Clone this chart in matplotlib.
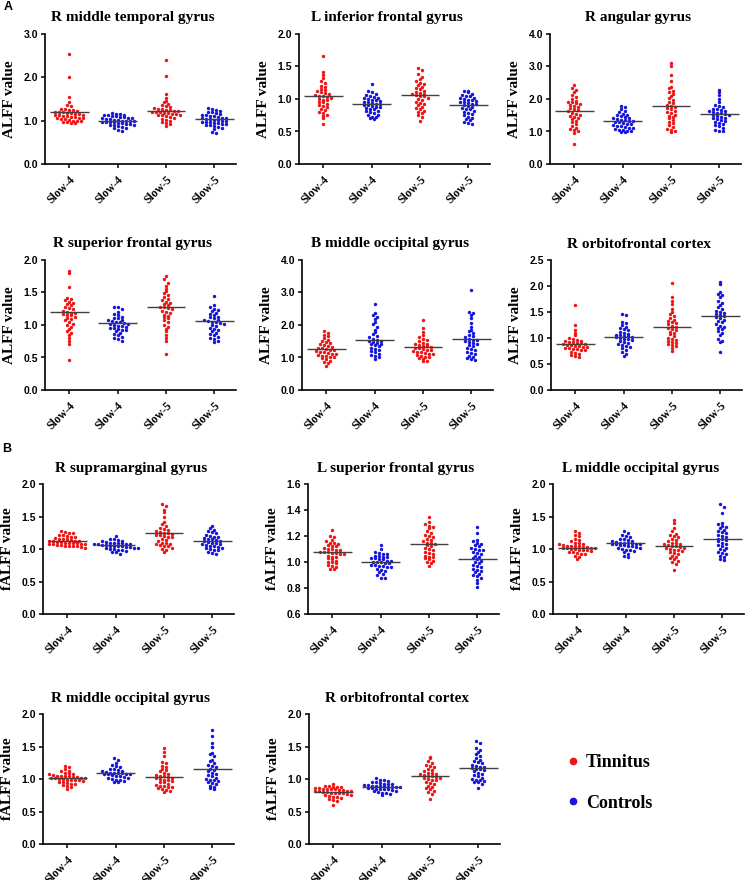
import numpy as np
import matplotlib.pyplot as plt
from matplotlib.lines import Line2D

# ---- data (one list per group) ----
groups = ["Slow-4", "Slow-4", "Slow-5", "Slow-5"]

# A: ALFF
a_mtg_t4 = [2.53, 2.01, 1.54, 1.42, 1.35, 1.33, 1.28, 1.27, 1.25, 1.24, 1.22, 1.21, 1.2, 1.19, 1.18, 1.17, 1.16, 1.15, 1.14,
            1.13, 1.12, 1.11, 1.1, 1.09, 1.08, 1.07, 1.06, 1.05, 1.04, 1.03, 1.02, 1.0, 1.0, 0.99, 0.98, 0.97, 0.95, 0.94]
a_mtg_c4 = [1.17, 1.16, 1.15, 1.14, 1.13, 1.12, 1.11, 1.1, 1.09, 1.08, 1.07, 1.06, 1.05, 1.04, 1.03, 1.02, 1.01, 1.0, 1.0,
            0.99, 0.99, 0.98, 0.97, 0.97, 0.96, 0.95, 0.94, 0.93, 0.92, 0.91, 0.9, 0.89, 0.88, 0.86, 0.84, 0.82, 0.79, 0.77]
a_mtg_t5 = [2.41, 2.02, 1.62, 1.53, 1.46, 1.42, 1.38, 1.35, 1.33, 1.31, 1.29, 1.27, 1.26, 1.25, 1.24, 1.23, 1.22, 1.21, 1.2,
            1.19, 1.18, 1.17, 1.16, 1.15, 1.14, 1.13, 1.12, 1.1, 1.08, 1.06, 1.04, 1.02, 1.0, 0.98, 0.95, 0.92, 0.88]
a_mtg_c5 = [1.29, 1.28, 1.25, 1.23, 1.21, 1.19, 1.17, 1.15, 1.13, 1.12, 1.11, 1.1, 1.08, 1.07, 1.06, 1.05, 1.04, 1.03, 1.02,
            1.01, 1.0, 0.99, 0.98, 0.97, 0.96, 0.95, 0.94, 0.93, 0.92, 0.9, 0.89, 0.87, 0.85, 0.83, 0.8, 0.74, 0.71]
a_mtg_mean = [1.19, 1.0, 1.23, 1.03]

a_ifg_t4 = [1.66, 1.41, 1.37, 1.32, 1.28, 1.24, 1.2, 1.18, 1.16, 1.14, 1.12, 1.1, 1.09, 1.08, 1.06, 1.05, 1.04, 1.03,
            1.02, 1.0, 0.99, 0.98, 0.96, 0.95, 0.93, 0.91, 0.89, 0.87, 0.85, 0.83, 0.8, 0.78, 0.76, 0.74, 0.7, 0.62]
a_ifg_c4 = [1.23, 1.12, 1.1, 1.08, 1.06, 1.05, 1.03, 1.02, 1.01, 1.0, 0.99, 0.98, 0.97, 0.96, 0.95, 0.94, 0.93, 0.92,
            0.91, 0.9, 0.89, 0.88, 0.87, 0.86, 0.85, 0.84, 0.82, 0.81, 0.8, 0.78, 0.76, 0.75, 0.73, 0.72, 0.7, 0.69]
a_ifg_t5 = [1.48, 1.45, 1.38, 1.34, 1.31, 1.28, 1.25, 1.23, 1.21, 1.19, 1.17, 1.15, 1.13, 1.11, 1.09, 1.08, 1.07, 1.06,
            1.05, 1.04, 1.02, 1.0, 0.98, 0.96, 0.94, 0.92, 0.9, 0.88, 0.86, 0.84, 0.82, 0.8, 0.78, 0.75, 0.72, 0.66]
a_ifg_c5 = [1.13, 1.12, 1.1, 1.08, 1.06, 1.05, 1.04, 1.02, 1.01, 1.0, 0.99, 0.98, 0.97, 0.96, 0.95, 0.94, 0.93, 0.92,
            0.9, 0.89, 0.88, 0.86, 0.85, 0.84, 0.82, 0.8, 0.79, 0.77, 0.75, 0.73, 0.71, 0.69, 0.67, 0.65, 0.63, 0.62]
a_ifg_mean = [1.04, 0.92, 1.06, 0.9]

a_ang_t4 = [2.42, 2.35, 2.28, 2.2, 2.12, 2.05, 2.0, 1.95, 1.92, 1.9, 1.88, 1.85, 1.82, 1.78, 1.75, 1.72, 1.68, 1.65,
            1.62, 1.58, 1.55, 1.52, 1.48, 1.45, 1.42, 1.38, 1.33, 1.28, 1.22, 1.16, 1.12, 1.08, 1.04, 1.0, 0.96, 0.62]
a_ang_c4 = [1.78, 1.75, 1.68, 1.64, 1.6, 1.55, 1.52, 1.5, 1.47, 1.45, 1.43, 1.4, 1.38, 1.36, 1.34, 1.32, 1.31, 1.3,
            1.28, 1.26, 1.24, 1.22, 1.2, 1.18, 1.16, 1.14, 1.12, 1.1, 1.08, 1.06, 1.04, 1.02, 1.0, 0.98, 0.97]
a_ang_t5 = [3.1, 3.01, 2.75, 2.55, 2.38, 2.33, 2.26, 2.2, 2.15, 2.1, 2.02, 1.97, 1.92, 1.87, 1.82, 1.78, 1.75, 1.72,
            1.68, 1.64, 1.6, 1.56, 1.52, 1.48, 1.44, 1.4, 1.35, 1.3, 1.25, 1.2, 1.14, 1.08, 1.04, 1.0, 0.97]
a_ang_c5 = [2.28, 2.22, 2.12, 2.0, 1.9, 1.82, 1.78, 1.74, 1.7, 1.68, 1.66, 1.64, 1.62, 1.6, 1.58, 1.56, 1.54, 1.52,
            1.5, 1.48, 1.45, 1.42, 1.4, 1.37, 1.34, 1.32, 1.3, 1.27, 1.24, 1.2, 1.16, 1.12, 1.06, 1.02, 1.0]
a_ang_mean = [1.62, 1.31, 1.77, 1.53]

a_sfg_t4 = [1.83, 1.8, 1.58, 1.42, 1.4, 1.38, 1.36, 1.34, 1.32, 1.3, 1.28, 1.26, 1.24, 1.22, 1.2, 1.19, 1.18, 1.17,
            1.16, 1.15, 1.13, 1.11, 1.09, 1.07, 1.05, 1.02, 1.0, 0.97, 0.94, 0.91, 0.88, 0.84, 0.8, 0.75, 0.7, 0.46]
a_sfg_c4 = [1.28, 1.27, 1.24, 1.2, 1.17, 1.15, 1.13, 1.11, 1.1, 1.08, 1.07, 1.06, 1.05, 1.04, 1.03, 1.02, 1.01, 1.0,
            0.99, 0.98, 0.97, 0.96, 0.95, 0.94, 0.93, 0.92, 0.9, 0.88, 0.86, 0.84, 0.82, 0.8, 0.78, 0.76]
a_sfg_t5 = [1.75, 1.7, 1.65, 1.6, 1.56, 1.52, 1.49, 1.46, 1.43, 1.4, 1.38, 1.36, 1.34, 1.32, 1.3, 1.28, 1.27, 1.26,
            1.24, 1.22, 1.2, 1.18, 1.16, 1.14, 1.12, 1.1, 1.07, 1.04, 1.0, 0.97, 0.94, 0.9, 0.85, 0.8, 0.75, 0.56]
a_sfg_c5 = [1.45, 1.3, 1.28, 1.25, 1.23, 1.21, 1.19, 1.17, 1.15, 1.13, 1.12, 1.1, 1.08, 1.07, 1.06, 1.05, 1.04, 1.03,
            1.02, 1.0, 0.98, 0.96, 0.94, 0.92, 0.9, 0.88, 0.86, 0.84, 0.82, 0.8, 0.78, 0.76, 0.74]
a_sfg_mean = [1.2, 1.03, 1.27, 1.06]

a_mog_t4 = [1.82, 1.75, 1.7, 1.65, 1.6, 1.55, 1.5, 1.47, 1.44, 1.41, 1.38, 1.35, 1.32, 1.3, 1.28, 1.26, 1.24, 1.22,
            1.2, 1.18, 1.16, 1.14, 1.12, 1.1, 1.08, 1.06, 1.04, 1.02, 1.0, 0.97, 0.94, 0.9, 0.86, 0.82, 0.75]
a_mog_c4 = [2.65, 2.38, 2.3, 2.25, 2.18, 2.1, 2.02, 1.95, 1.85, 1.78, 1.72, 1.66, 1.62, 1.58, 1.55, 1.52, 1.5, 1.48,
            1.45, 1.42, 1.4, 1.37, 1.34, 1.3, 1.27, 1.24, 1.2, 1.16, 1.12, 1.08, 1.04, 1.0, 0.96]
a_mog_t5 = [2.15, 1.9, 1.78, 1.68, 1.62, 1.58, 1.54, 1.5, 1.46, 1.43, 1.4, 1.38, 1.36, 1.34, 1.32, 1.3, 1.28, 1.26,
            1.24, 1.22, 1.2, 1.18, 1.16, 1.14, 1.12, 1.1, 1.08, 1.05, 1.02, 1.0, 0.97, 0.94, 0.9, 0.88]
a_mog_c5 = [3.08, 2.4, 2.36, 2.32, 2.2, 2.05, 1.95, 1.86, 1.8, 1.75, 1.7, 1.66, 1.62, 1.58, 1.55, 1.53, 1.5, 1.48,
            1.45, 1.42, 1.38, 1.34, 1.3, 1.26, 1.22, 1.18, 1.14, 1.1, 1.06, 1.02, 0.98, 0.95, 0.92]
a_mog_mean = [1.25, 1.53, 1.31, 1.56]

a_ofc_t4 = [1.63, 1.25, 1.15, 1.1, 1.05, 1.0, 0.98, 0.96, 0.95, 0.94, 0.93, 0.92, 0.91, 0.9, 0.89, 0.88, 0.87, 0.86,
            0.85, 0.84, 0.83, 0.82, 0.81, 0.8, 0.79, 0.78, 0.77, 0.76, 0.74, 0.72, 0.7, 0.68, 0.66, 0.64]
a_ofc_c4 = [1.46, 1.45, 1.3, 1.28, 1.25, 1.22, 1.2, 1.18, 1.15, 1.12, 1.1, 1.08, 1.06, 1.05, 1.04, 1.03, 1.02, 1.01,
            1.0, 0.99, 0.98, 0.96, 0.94, 0.92, 0.9, 0.88, 0.86, 0.84, 0.82, 0.8, 0.77, 0.74, 0.7, 0.65]
a_ofc_t5 = [2.05, 1.78, 1.72, 1.65, 1.55, 1.5, 1.46, 1.42, 1.38, 1.35, 1.32, 1.3, 1.28, 1.26, 1.24, 1.22, 1.2, 1.18,
            1.15, 1.12, 1.1, 1.07, 1.04, 1.0, 0.98, 0.96, 0.94, 0.92, 0.9, 0.88, 0.86, 0.84, 0.8, 0.75]
a_ofc_c5 = [2.08, 2.04, 1.88, 1.85, 1.82, 1.78, 1.72, 1.68, 1.64, 1.6, 1.56, 1.52, 1.5, 1.48, 1.46, 1.44, 1.42, 1.4,
            1.38, 1.35, 1.32, 1.3, 1.27, 1.24, 1.22, 1.2, 1.17, 1.14, 1.1, 1.05, 0.98, 0.95, 0.92, 0.73]
a_ofc_mean = [0.88, 1.02, 1.21, 1.43]

# B: fALFF
f_smg_t4 = [1.27, 1.26, 1.25, 1.24, 1.22, 1.21, 1.2, 1.19, 1.18, 1.17, 1.16, 1.15, 1.15, 1.14, 1.13, 1.13, 1.12, 1.12,
            1.11, 1.11, 1.1, 1.1, 1.09, 1.09, 1.08, 1.08, 1.07, 1.07, 1.06, 1.06, 1.05, 1.05, 1.04, 1.04, 1.03, 1.02]
f_smg_c4 = [1.2, 1.16, 1.15, 1.14, 1.13, 1.12, 1.11, 1.1, 1.1, 1.09, 1.09, 1.08, 1.08, 1.07, 1.07, 1.06, 1.06, 1.05,
            1.05, 1.04, 1.04, 1.03, 1.03, 1.02, 1.02, 1.01, 1.0, 1.0, 0.99, 0.98, 0.97, 0.96, 0.95, 0.92]
f_smg_t5 = [1.7, 1.66, 1.6, 1.57, 1.5, 1.42, 1.38, 1.35, 1.33, 1.31, 1.29, 1.27, 1.26, 1.25, 1.24, 1.23, 1.22, 1.21,
            1.2, 1.19, 1.18, 1.16, 1.14, 1.12, 1.1, 1.09, 1.08, 1.07, 1.06, 1.05, 1.04, 1.02, 1.0, 0.98, 0.96]
f_smg_c5 = [1.36, 1.32, 1.3, 1.28, 1.26, 1.24, 1.22, 1.2, 1.19, 1.18, 1.17, 1.16, 1.15, 1.14, 1.13, 1.12, 1.11, 1.1,
            1.09, 1.08, 1.07, 1.06, 1.05, 1.04, 1.03, 1.02, 1.01, 1.0, 0.99, 0.98, 0.96, 0.94, 0.93]
f_smg_mean = [1.12, 1.06, 1.24, 1.12]

f_sfg_t4 = [1.25, 1.2, 1.19, 1.17, 1.16, 1.15, 1.15, 1.14, 1.13, 1.12, 1.12, 1.11, 1.1, 1.1, 1.09, 1.09, 1.08, 1.08,
            1.08, 1.07, 1.07, 1.06, 1.06, 1.05, 1.04, 1.04, 1.03, 1.02, 1.01, 1.0, 1.0, 0.99, 0.98, 0.97, 0.96, 0.95, 0.95]
f_sfg_c4 = [1.13, 1.1, 1.08, 1.07, 1.06, 1.06, 1.05, 1.05, 1.04, 1.04, 1.03, 1.03, 1.02, 1.02, 1.01, 1.01, 1.0, 1.0,
            1.0, 0.99, 0.99, 0.98, 0.98, 0.97, 0.97, 0.96, 0.96, 0.95, 0.94, 0.93, 0.92, 0.91, 0.9, 0.88, 0.88]
f_sfg_t5 = [1.35, 1.31, 1.29, 1.28, 1.27, 1.26, 1.24, 1.22, 1.21, 1.2, 1.19, 1.18, 1.17, 1.16, 1.15, 1.15, 1.14, 1.13,
            1.12, 1.11, 1.1, 1.09, 1.08, 1.07, 1.06, 1.05, 1.04, 1.04, 1.03, 1.02, 1.01, 1.0, 0.99, 0.97]
f_sfg_c5 = [1.27, 1.22, 1.17, 1.16, 1.15, 1.14, 1.13, 1.12, 1.11, 1.1, 1.09, 1.09, 1.08, 1.07, 1.06, 1.05, 1.04, 1.03,
            1.02, 1.01, 1.0, 0.99, 0.98, 0.97, 0.96, 0.95, 0.94, 0.93, 0.92, 0.91, 0.9, 0.89, 0.88, 0.86, 0.84, 0.81]
f_sfg_mean = [1.08, 1.0, 1.14, 1.02]

f_lmog_t4 = [1.28, 1.25, 1.22, 1.2, 1.16, 1.14, 1.12, 1.1, 1.09, 1.08, 1.07, 1.06, 1.05, 1.05, 1.04, 1.04, 1.03, 1.03,
             1.02, 1.02, 1.01, 1.01, 1.0, 1.0, 0.99, 0.99, 0.98, 0.97, 0.96, 0.95, 0.94, 0.93, 0.92, 0.9, 0.88, 0.85]
f_lmog_c4 = [1.27, 1.25, 1.22, 1.2, 1.18, 1.16, 1.15, 1.14, 1.13, 1.12, 1.11, 1.1, 1.1, 1.09, 1.09, 1.08, 1.08, 1.07,
             1.07, 1.06, 1.06, 1.05, 1.04, 1.03, 1.02, 1.01, 1.0, 0.99, 0.98, 0.97, 0.95, 0.92, 0.89, 0.88]
f_lmog_t5 = [1.44, 1.4, 1.33, 1.28, 1.23, 1.21, 1.2, 1.18, 1.16, 1.14, 1.12, 1.1, 1.09, 1.08, 1.07, 1.06, 1.05, 1.04,
             1.03, 1.02, 1.01, 1.0, 0.99, 0.98, 0.97, 0.96, 0.94, 0.92, 0.9, 0.88, 0.86, 0.84, 0.82, 0.8, 0.77, 0.68]
f_lmog_c5 = [1.7, 1.65, 1.55, 1.4, 1.38, 1.36, 1.34, 1.32, 1.3, 1.28, 1.26, 1.24, 1.22, 1.2, 1.18, 1.16, 1.15, 1.14,
             1.12, 1.1, 1.08, 1.06, 1.04, 1.02, 1.0, 0.98, 0.96, 0.94, 0.92, 0.9, 0.88, 0.85, 0.83]
f_lmog_mean = [1.02, 1.09, 1.05, 1.16]

f_rmog_t4 = [1.2, 1.19, 1.15, 1.13, 1.12, 1.1, 1.09, 1.08, 1.07, 1.06, 1.05, 1.05, 1.04, 1.04, 1.03, 1.03, 1.02, 1.02,
             1.01, 1.01, 1.0, 1.0, 0.99, 0.99, 0.98, 0.98, 0.97, 0.96, 0.95, 0.94, 0.93, 0.92, 0.91, 0.9, 0.88, 0.85]
f_rmog_c4 = [1.32, 1.3, 1.25, 1.22, 1.2, 1.18, 1.16, 1.15, 1.14, 1.13, 1.12, 1.11, 1.1, 1.1, 1.09, 1.09, 1.08, 1.08,
             1.07, 1.07, 1.06, 1.05, 1.04, 1.03, 1.02, 1.01, 1.0, 0.99, 0.98, 0.97, 0.96, 0.95]
f_rmog_t5 = [1.47, 1.42, 1.35, 1.26, 1.24, 1.2, 1.18, 1.16, 1.14, 1.12, 1.1, 1.08, 1.06, 1.05, 1.04, 1.03, 1.02, 1.01,
             1.0, 0.99, 0.98, 0.97, 0.96, 0.95, 0.93, 0.91, 0.9, 0.89, 0.88, 0.87, 0.86, 0.85, 0.83, 0.82, 0.8]
f_rmog_c5 = [1.75, 1.66, 1.55, 1.5, 1.49, 1.4, 1.38, 1.36, 1.3, 1.28, 1.25, 1.22, 1.2, 1.18, 1.16, 1.14, 1.12, 1.1,
             1.08, 1.06, 1.04, 1.02, 1.0, 0.99, 0.98, 0.97, 0.96, 0.94, 0.92, 0.9, 0.88, 0.86, 0.85]
f_rmog_mean = [1.01, 1.09, 1.03, 1.15]

f_ofc_t4 = [0.93, 0.9, 0.89, 0.88, 0.87, 0.87, 0.86, 0.86, 0.85, 0.85, 0.84, 0.84, 0.83, 0.83, 0.82, 0.82, 0.81, 0.81,
            0.8, 0.8, 0.79, 0.79, 0.78, 0.78, 0.77, 0.76, 0.75, 0.74, 0.73, 0.72, 0.71, 0.7, 0.68, 0.66, 0.6]
f_ofc_c4 = [1.01, 0.99, 0.98, 0.97, 0.96, 0.95, 0.94, 0.93, 0.92, 0.92, 0.91, 0.91, 0.9, 0.9, 0.89, 0.89, 0.88, 0.88,
            0.87, 0.87, 0.86, 0.86, 0.85, 0.85, 0.84, 0.84, 0.83, 0.82, 0.81, 0.8, 0.79, 0.78, 0.77, 0.75]
f_ofc_t5 = [1.34, 1.32, 1.28, 1.25, 1.22, 1.2, 1.18, 1.16, 1.14, 1.12, 1.1, 1.09, 1.08, 1.07, 1.06, 1.05, 1.04, 1.03,
            1.02, 1.01, 1.0, 0.99, 0.98, 0.96, 0.94, 0.92, 0.9, 0.88, 0.86, 0.84, 0.82, 0.8, 0.77, 0.7]
f_ofc_c5 = [1.58, 1.55, 1.48, 1.45, 1.42, 1.38, 1.35, 1.33, 1.3, 1.28, 1.26, 1.24, 1.22, 1.2, 1.19, 1.18, 1.17, 1.16,
            1.15, 1.14, 1.12, 1.1, 1.08, 1.06, 1.04, 1.02, 1.0, 0.99, 0.98, 0.97, 0.96, 0.95, 0.92, 0.86]
f_ofc_mean = [0.8, 0.88, 1.05, 1.17]

RED = '#ee1515'
BLUE = '#1515dd'
colors = [RED, BLUE, RED, BLUE]

W, H = 750, 880
AX_W, AX_H = 191, 130
PX_PER_UNIT = 48.3
serif = 'Liberation Serif'
sans = 'Liberation Sans'

# title, ylabel, (ymin, ymax, step), data, means, (left px, top px)
panels = [
    ("R middle temporal gyrus", "ALFF value", (0, 3, 1.0),
     [a_mtg_t4, a_mtg_c4, a_mtg_t5, a_mtg_c5], a_mtg_mean, (45, 34)),
    ("L inferior frontal gyrus", "ALFF value", (0, 2, 0.5),
     [a_ifg_t4, a_ifg_c4, a_ifg_t5, a_ifg_c5], a_ifg_mean, (299, 34)),
    ("R angular gyrus", "ALFF value", (0, 4, 1.0),
     [a_ang_t4, a_ang_c4, a_ang_t5, a_ang_c5], a_ang_mean, (550, 34)),
    ("R superior frontal gyrus", "ALFF value", (0, 2, 0.5),
     [a_sfg_t4, a_sfg_c4, a_sfg_t5, a_sfg_c5], a_sfg_mean, (45, 260)),
    ("B middle occipital gyrus", "ALFF value", (0, 4, 1.0),
     [a_mog_t4, a_mog_c4, a_mog_t5, a_mog_c5], a_mog_mean, (302, 260)),
    ("R orbitofrontal cortex", "ALFF value", (0, 2.5, 0.5),
     [a_ofc_t4, a_ofc_c4, a_ofc_t5, a_ofc_c5], a_ofc_mean, (551, 260)),
    ("R supramarginal gyrus", "fALFF value", (0, 2, 0.5),
     [f_smg_t4, f_smg_c4, f_smg_t5, f_smg_c5], f_smg_mean, (43, 484)),
    ("L superior frontal gyrus", "fALFF value", (0.6, 1.6, 0.2),
     [f_sfg_t4, f_sfg_c4, f_sfg_t5, f_sfg_c5], f_sfg_mean, (308, 484)),
    ("L middle occipital gyrus", "fALFF value", (0, 2, 0.5),
     [f_lmog_t4, f_lmog_c4, f_lmog_t5, f_lmog_c5], f_lmog_mean, (553, 484)),
    ("R middle occipital gyrus", "fALFF value", (0, 2, 0.5),
     [f_rmog_t4, f_rmog_c4, f_rmog_t5, f_rmog_c5], f_rmog_mean, (43, 714)),
    ("R orbitofrontal cortex", "fALFF value", (0, 2, 0.5),
     [f_ofc_t4, f_ofc_c4, f_ofc_t5, f_ofc_c5], f_ofc_mean, (309, 714)),
]


def swarm(vals, center, yrange):
    # simple beeswarm: points in the same y row get spread sideways
    v = np.sort(np.asarray(vals, dtype=float))[::-1]
    row_h = yrange * 3.4 / AX_H
    rows = np.round(v / row_h)
    dx = 4.0 / PX_PER_UNIT
    xs = np.empty_like(v)
    for r in np.unique(rows):
        idx = np.where(rows == r)[0]
        n = len(idx)
        xs[idx] = center + (np.arange(n) - (n - 1) / 2) * dx
    return xs, v


fig = plt.figure(figsize=(W / 100, H / 100), dpi=100)

for title, ylabel, (ylo, yhi, step), data, means, (lx, ty) in panels:
    ax = fig.add_axes([lx / W, 1 - (ty + AX_H) / H, AX_W / W, AX_H / H])
    for i, (vals, col) in enumerate(zip(data, colors)):
        xs, ys = swarm(vals, i + 1, yhi - ylo)
        ax.scatter(xs, ys, s=6, color=col, linewidths=0, zorder=2)
        ax.hlines(means[i], i + 1 - 0.4, i + 1 + 0.4, color='#404040', lw=1.0, zorder=3)
    ax.set_xlim(0.5, 4.45)
    ax.set_ylim(ylo, yhi)
    yt = np.arange(ylo, yhi + step / 2, step)
    ax.set_yticks(yt)
    ax.set_yticklabels(['%.1f' % t for t in yt], fontfamily=sans, fontweight='bold', fontsize=7.5)
    ax.set_xticks([1, 2, 3, 4])
    ax.set_xticklabels(groups, rotation=45, ha='right', va='top', rotation_mode='anchor',
                       fontfamily=serif, fontweight='bold', fontsize=8.5)
    ax.tick_params(axis='both', length=3, width=1.1, pad=2)
    ax.tick_params(axis='x', pad=4)
    for s in ['top', 'right']:
        ax.spines[s].set_visible(False)
    for s in ['left', 'bottom']:
        ax.spines[s].set_linewidth(1.2)
    ax.set_title(title, fontfamily=serif, fontweight='bold', fontsize=11, pad=9, x=0.46)
    ax.set_ylabel(ylabel, fontfamily=serif, fontweight='bold', fontsize=11)
    ax.yaxis.set_label_coords(-29 / AX_W, 0.5)

fig.text(8 / W, 1 - 7 / H, "A", fontfamily=sans, fontweight='bold', fontsize=9, ha='center', va='center')
fig.text(7 / W, 1 - 449 / H, "B", fontfamily=sans, fontweight='bold', fontsize=9, ha='center', va='center')

handles = [Line2D([], [], marker='o', ls='', color=RED, ms=4.5),
           Line2D([], [], marker='o', ls='', color=BLUE, ms=4.5)]
fig.legend(handles, ["Tinnitus", "Controls"], loc='upper left', bbox_to_anchor=(550 / W, 1 - 738 / H),
           frameon=False, prop=dict(family=serif, weight='bold', size=13),
           handlelength=0.8, handletextpad=0.3, labelspacing=1.3)

fig.savefig('out.png', dpi=100)
